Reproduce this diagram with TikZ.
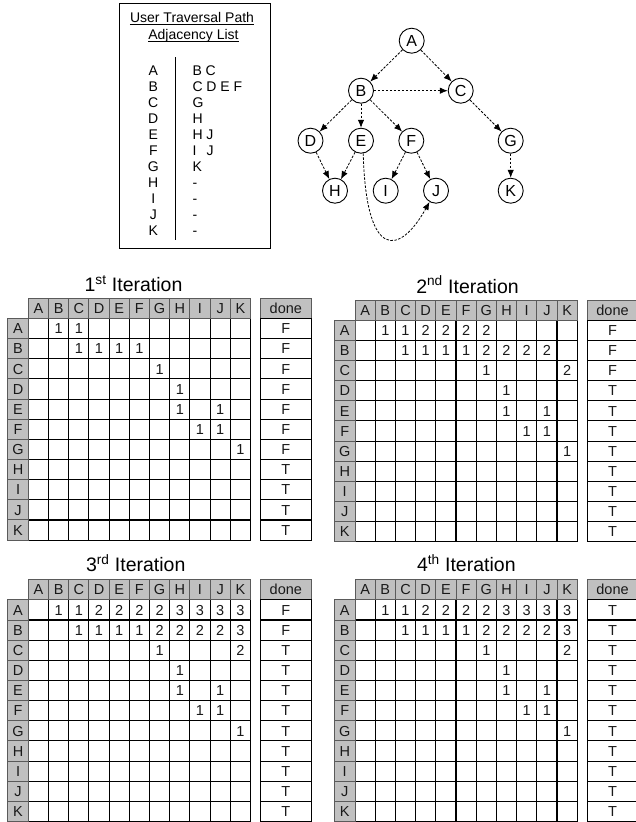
\documentclass[tikz,border=0pt]{standalone}
\usepackage{fontspec}
\setmainfont{Liberation Sans}
\usetikzlibrary{arrows.meta}

\definecolor{hdr}{RGB}{192,192,192}
\definecolor{hdrline}{RGB}{90,90,90}
\definecolor{ink}{RGB}{25,25,25}

\newcommand{\cellfont}{\fontsize{14.5}{16}\selectfont}
\newcommand{\titlefont}{\fontsize{19.5}{22}\selectfont}

\tikzset{
  gridline/.style={line width=1.1pt, draw=black},
  hdrcell/.style={draw=hdrline, fill=hdr, line width=1pt, inner sep=0pt,
    minimum width=20.2pt, minimum height=20.15pt,
    text height=10.4pt, text depth=0pt, font=\cellfont, text=ink},
  cell/.style={inner sep=0pt, text height=10.4pt, text depth=0pt,
    font=\cellfont, text=ink},
  donecell/.style={draw=black, fill=white, line width=1.1pt, inner sep=0pt,
    minimum width=50.5pt, minimum height=20.15pt,
    text height=10.4pt, text depth=0pt, font=\cellfont, text=ink},
  ttl/.style={inner sep=0pt, font=\titlefont, anchor=base},
  vtx/.style={circle, draw, line width=0.9pt, minimum size=25pt, inner sep=0pt,
    font=\fontsize{16}{16}\selectfont},
  edge/.style={-{Latex[length=8pt,width=6.5pt]}, dash pattern=on 2.5pt off 1.5pt,
    line width=0.8pt},
  adjtxt/.style={inner sep=0pt, font=\fontsize{14}{16}\selectfont, anchor=base},
}

% One iteration table: name, origin (column A left, header top), entries row/col/value, done flags
\newcommand{\IterGrid}[4]{%
\begin{scope}[shift={#2}]
  \draw[gridline] (0,20.15) rectangle (222.2,241.8);
  \foreach \k in {2,...,11} \draw[gridline] (0,\k*20.15) -- (222.2,\k*20.15);
  \foreach \k in {1,...,10} \draw[gridline] (\k*20.2,20.15) -- (\k*20.2,241.8);
  \foreach \L [count=\k from 0] in {A,B,C,D,E,F,G,H,I,J,K}
    \node[hdrcell] (#1-col-\L) at (\k*20.2+10.1,10.075) {\L};
  \foreach \L [count=\k] in {A,B,C,D,E,F,G,H,I,J,K}
    \node[hdrcell, minimum width=20.5pt] (#1-row-\L) at (-10.25,\k*20.15+10.075) {\L};
  \foreach \R/\C/\v in {#3}
    \node[cell] (#1-\R-\C) at (\C*20.2-10.1,\R*20.15+10.075) {\v};
  \node[hdrcell, minimum width=50.5pt] (#1-done) at (257.55,10.075) {done};
  \foreach \v [count=\k] in {#4}
    \node[donecell] (#1-done-\k) at (257.55,\k*20.15+10.075) {\v};
\end{scope}}

\begin{document}
\begin{tikzpicture}[x=1pt, y=-1pt]
\useasboundingbox (0,0) rectangle (636,822);
\fill[white] (0,0) rectangle (636,822);

% ---------- adjacency list ----------
\node[draw, line width=1pt, inner sep=0pt, minimum width=151.5pt, minimum height=245pt,
  anchor=north west] (adjbox) at (118.7,3.3) {};
\node[adjtxt] (adjt1) at (192,22.7) {User Traversal Path};
\node[adjtxt] (adjt2) at (193.5,39.7) {Adjacency List};
\draw[line width=0.8pt] ([yshift=-1.6pt]adjt1.base west) -- ([yshift=-1.6pt]adjt1.base east);
\draw[line width=0.8pt] ([yshift=-1.8pt]adjt2.base west) -- ([yshift=-1.8pt]adjt2.base east);
\draw[line width=1pt] (175,57) -- (175,240);
\foreach \L [count=\k from 0] in {A,B,C,D,E,F,G,H,I,J,K}
  \node[adjtxt] (adj-\L) at (153.3,75.7+15.93*\k) {\L};
\foreach \T [count=\k from 0] in {B C,C D E F,G,H,H J,I\hspace{0.722em}J,K,-,-,-,-}
  \node[adjtxt, anchor=base west] (adjn-\k) at (192.3,75.7+15.93*\k) {\T};

% ---------- graph ----------
\node[vtx] (A) at (411.7,40.7) {A};
\node[vtx] (B) at (361,90.7) {B};
\node[vtx] (C) at (460.7,90.7) {C};
\node[vtx] (D) at (310.5,140.7) {D};
\node[vtx] (E) at (361,140.7) {E};
\node[vtx] (F) at (411.3,140.7) {F};
\node[vtx] (G) at (510.7,140.7) {G};
\node[vtx] (H) at (335,190.7) {H};
\node[vtx] (I) at (385.7,190.7) {I};
\node[vtx] (J) at (436,190.7) {J};
\node[vtx] (K) at (510.7,190.7) {K};
\draw[edge] (A) -- (B);
\draw[edge] (A) -- (C);
\draw[edge] (B) -- (C);
\draw[edge] (B) -- (D);
\draw[edge] (B) -- (E);
\draw[edge] (B) -- (F);
\draw[edge] (C) -- (G);
\draw[edge] (D) -- (H);
\draw[edge] (E) -- (H);
\draw[edge] (F) -- (I);
\draw[edge] (F) -- (J);
\draw[edge] (G) -- (K);
\draw[edge] (E.-80) .. controls (366,262) and (400,255) .. (J.-120);

% ---------- iteration tables ----------
\node[ttl] (title1) at (133.5,291.7) {1\textsuperscript{st} Iteration};
\IterGrid{g1}{(28.3,298.3)}{1/2/1,1/3/1,
  2/3/1,2/4/1,2/5/1,2/6/1,3/7/1,4/8/1,5/8/1,5/10/1,6/9/1,6/10/1,7/11/1}
  {F,F,F,F,F,F,F,T,T,T,T}

\node[ttl] (title2) at (467.5,293.3) {2\textsuperscript{nd} Iteration};
\IterGrid{g2}{(355,300)}{1/2/1,1/3/1,1/4/2,1/5/2,1/6/2,1/7/2,
  2/3/1,2/4/1,2/5/1,2/6/1,2/7/2,2/8/2,2/9/2,2/10/2,
  3/7/1,3/11/2,4/8/1,5/8/1,5/10/1,6/9/1,6/10/1,7/11/1}
  {F,F,F,T,T,T,T,T,T,T,T}

\node[ttl] (title3) at (135.7,571.7) {3\textsuperscript{rd} Iteration};
\IterGrid{g3}{(28.3,579.7)}{1/2/1,1/3/1,1/4/2,1/5/2,1/6/2,1/7/2,1/8/3,1/9/3,1/10/3,1/11/3,
  2/3/1,2/4/1,2/5/1,2/6/1,2/7/2,2/8/2,2/9/2,2/10/2,2/11/3,
  3/7/1,3/11/2,4/8/1,5/8/1,5/10/1,6/9/1,6/10/1,7/11/1}
  {F,F,T,T,T,T,T,T,T,T,T}

\node[ttl] (title4) at (466.3,571.7) {4\textsuperscript{th} Iteration};
\IterGrid{g4}{(355,579.7)}{1/2/1,1/3/1,1/4/2,1/5/2,1/6/2,1/7/2,1/8/3,1/9/3,1/10/3,1/11/3,
  2/3/1,2/4/1,2/5/1,2/6/1,2/7/2,2/8/2,2/9/2,2/10/2,2/11/3,
  3/7/1,3/11/2,4/8/1,5/8/1,5/10/1,6/9/1,6/10/1,7/11/1}
  {T,T,T,T,T,T,T,T,T,T,T}
\end{tikzpicture}
\end{document}
